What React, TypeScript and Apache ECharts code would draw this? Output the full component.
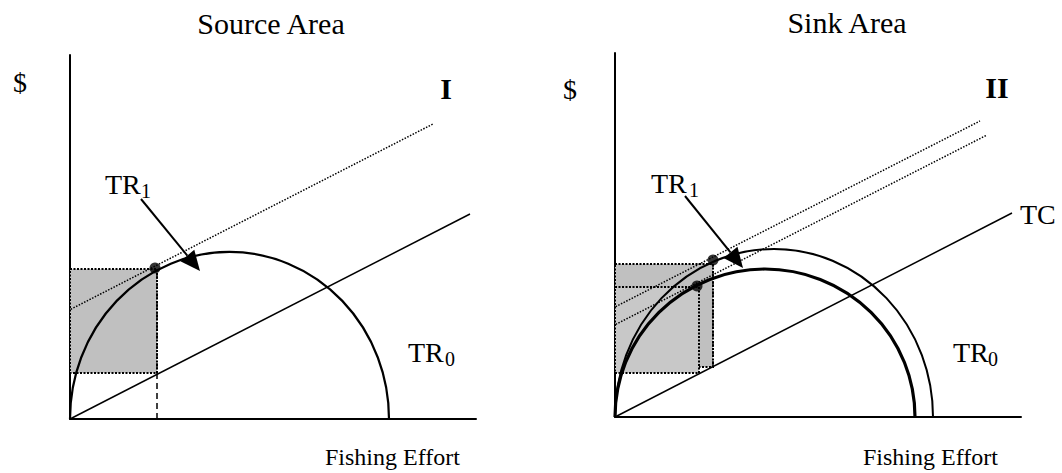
import React, { useEffect, useRef } from "react";
import * as echarts from "echarts";

// ---- Panel I : Source Area (units: axis-corner based, x to the right, y upward) ----
const srcTC = [[0, 0], [400, 205]];
const srcPrice = [[-34, 92], [363, 295]];
const srcTR = [[159.5, 159.5, 167]]; // [centre x, radius x, radius y]
const srcDot = [[85, 151]];
const srcRect = [[0, 46, 87, 150]]; // [x0, y0, x1, y1]
const srcDrop = [[87, 0], [87, 150]];
const srcArrow = [[71, 220, 130, 148]]; // [from x, from y, tip x, tip y]

// ---- Panel II : Sink Area ----
const snkTC = [[0, 0], [397, 204]];
const snkPriceHi = [[-31.5, 94], [365, 296]];
const snkPriceLo = [[-26, 79], [372, 282]];
const snkTROuter = [[159, 159, 168]];
const snkTRInner = [[150, 150, 148]];
const snkDots = [[98, 157], [82, 131]];
const snkRectOuter = [[0, 50, 98, 153]];
const snkRectInner = [[0, 44, 84, 130]];
const snkDrop = [[98, 50], [98, 153]];
const snkArrow = [[70, 221, 128, 149]];

const titles = ["Source Area", "Sink Area"];
const panelIds = ["I", "II"];
const xName = "Fishing Effort";
const yName = "$";

const FONT = '"Liberation Serif", "Times New Roman", Times, serif';

function rectItem(fill: string) {
  return (params: any, api: any) => {
    const p0 = api.coord([api.value(0), api.value(3)]);
    const p1 = api.coord([api.value(2), api.value(1)]);
    return {
      type: "rect",
      shape: { x: p0[0], y: p0[1], width: p1[0] - p0[0], height: p1[1] - p0[1] },
      style: { fill, stroke: "#000", lineWidth: 2, lineDash: [2, 1.5] },
    };
  };
}

function arcItem(lineWidth: number) {
  return (params: any, api: any) => {
    const cx = api.value(0), rx = api.value(1), ry = api.value(2);
    const s = api.coord([cx - rx, 0]);
    const e = api.coord([cx + rx, 0]);
    const t = api.coord([cx, ry]);
    const rxp = (e[0] - s[0]) / 2;
    const ryp = s[1] - t[1];
    return {
      type: "path",
      shape: { pathData: `M${s[0]} ${s[1]} A${rxp} ${ryp} 0 0 1 ${e[0]} ${e[1]}` },
      style: { fill: "none", stroke: "#000", lineWidth },
    };
  };
}

function arrowItem(params: any, api: any) {
  const a = api.coord([api.value(0), api.value(1)]);
  const b = api.coord([api.value(2), api.value(3)]);
  const dx = b[0] - a[0], dy = b[1] - a[1];
  const L = Math.hypot(dx, dy);
  const ux = dx / L, uy = dy / L;
  const hl = 20, hw = 9;
  const bx = b[0] - ux * hl, by = b[1] - uy * hl;
  return {
    type: "group",
    children: [
      { type: "line", shape: { x1: a[0], y1: a[1], x2: bx, y2: by }, style: { stroke: "#000", lineWidth: 2 } },
      {
        type: "polygon",
        shape: { points: [[b[0], b[1]], [bx - uy * hw, by + ux * hw], [bx + uy * hw, by - ux * hw]] },
        style: { fill: "#000" },
      },
    ],
  };
}

function line(data: number[][], idx: number, width: number, type: any) {
  return {
    type: "line",
    xAxisIndex: idx,
    yAxisIndex: idx,
    data,
    symbol: "none",
    showSymbol: false,
    clip: false,
    silent: true,
    lineStyle: { color: "#000", width, type },
    z: 3,
  };
}

function txt(text: string, x: number, y: number, size: number, align = "left", bold = false) {
  return {
    type: "text",
    x,
    y,
    silent: true,
    style: {
      text,
      fill: "#000",
      fontSize: size,
      fontFamily: FONT,
      fontWeight: bold ? "bold" : "normal",
      align,
      textAlign: align,
      verticalAlign: "middle",
      textVerticalAlign: "middle",
    },
  };
}

export default function App() {
  const ref = useRef<HTMLDivElement>(null);
  useEffect(() => {
    if (!ref.current) return;
    const chart = echarts.init(ref.current, null, { renderer: "svg" });
    const axisBase = {
      type: "value",
      min: 0,
      axisLine: { show: true, onZero: false, lineStyle: { color: "#000", width: 2 } },
      axisTick: { show: false },
      axisLabel: { show: false },
      splitLine: { show: false },
    };
    const option: any = {
      animation: false,
      backgroundColor: "#fff",
      grid: [
        { left: 70, top: 55, width: 406, height: 364 },
        { left: 615, top: 53, width: 406, height: 364 },
      ],
      xAxis: [0, 1].map((i) => ({ ...axisBase, gridIndex: i, max: 406 })),
      yAxis: [0, 1].map((i) => ({ ...axisBase, gridIndex: i, max: 364 })),
      series: [
        // shaded rectangles
        { type: "custom", xAxisIndex: 0, yAxisIndex: 0, data: srcRect, renderItem: rectItem("#c0c0c0"), z: 1, silent: true },
        { type: "custom", xAxisIndex: 1, yAxisIndex: 1, data: snkRectOuter, renderItem: rectItem("#c0c0c0"), z: 1, silent: true },
        { type: "custom", xAxisIndex: 1, yAxisIndex: 1, data: snkRectInner, renderItem: rectItem("#c8c8c8"), z: 1, silent: true },
        // cost and price lines
        line(srcTC, 0, 1.5, "solid"),
        line(srcPrice, 0, 1.5, [1.5, 1.5]),
        line(srcDrop, 0, 1.5, [6, 4]),
        line(snkTC, 1, 1.5, "solid"),
        line(snkPriceHi, 1, 1.5, [1.5, 1.5]),
        line(snkPriceLo, 1, 1.5, [1.5, 1.5]),
        line(snkDrop, 1, 1.5, [6, 4]),
        // revenue curves
        { type: "custom", xAxisIndex: 0, yAxisIndex: 0, data: srcTR, renderItem: arcItem(2.2), z: 4, silent: true },
        { type: "custom", xAxisIndex: 1, yAxisIndex: 1, data: snkTROuter, renderItem: arcItem(2), z: 4, silent: true },
        { type: "custom", xAxisIndex: 1, yAxisIndex: 1, data: snkTRInner, renderItem: arcItem(3.2), z: 4, silent: true },
        // arrows
        { type: "custom", xAxisIndex: 0, yAxisIndex: 0, data: srcArrow, renderItem: arrowItem, z: 5, silent: true },
        { type: "custom", xAxisIndex: 1, yAxisIndex: 1, data: snkArrow, renderItem: arrowItem, z: 5, silent: true },
        // equilibrium dots
        { type: "scatter", xAxisIndex: 0, yAxisIndex: 0, data: srcDot, symbolSize: 11, itemStyle: { color: "#000" }, z: 6, silent: true },
        { type: "scatter", xAxisIndex: 1, yAxisIndex: 1, data: snkDots, symbolSize: 11, itemStyle: { color: "#000" }, z: 6, silent: true },
      ],
      graphic: [
        txt(titles[0], 271, 23, 30, "center"),
        txt(titles[1], 847, 22, 30, "center"),
        txt(yName, 20, 82, 28, "center"),
        txt(yName, 570, 89, 28, "center"),
        txt(panelIds[0], 446, 88, 30, "center", true),
        txt(panelIds[1], 997, 87, 30, "center", true),
        txt("TR", 105, 184, 28),
        txt("1", 141, 191, 20),
        txt("TR", 408, 352, 28),
        txt("0", 445, 359, 20),
        txt("TR", 651, 183, 28),
        txt("1", 689, 190, 20),
        txt("TR", 953, 352, 28),
        txt("0", 988, 359, 20),
        txt("TC", 1020, 214, 28),
        txt(xName, 325, 457, 24),
        txt(xName, 863, 457, 24),
      ],
    };
    chart.setOption(option);
    return () => chart.dispose();
  }, []);
  return <div ref={ref} style={{ position: "absolute", left: 0, top: 0, width: 1062, height: 473 }} />;
}
